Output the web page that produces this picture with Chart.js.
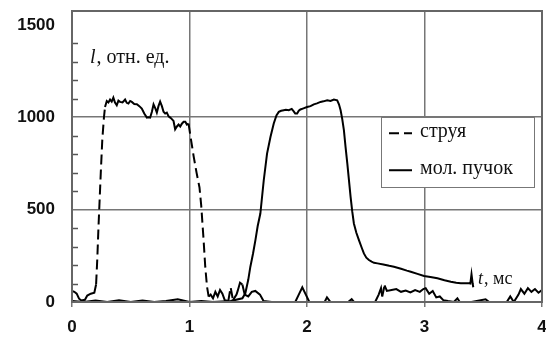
<!DOCTYPE html>
<html><head><meta charset="utf-8">
<script src="https://cdn.jsdelivr.net/npm/chart.js@4/dist/chart.umd.min.js"></script>
<style>html,body{margin:0;padding:0;background:#fff}#wrap{position:relative;width:546px;height:338px}</style>
</head><body><div id="wrap"><canvas id="c" width="546" height="338"></canvas></div>
<script>
// ---- data ----
const seriesNames = ['струя', 'мол. пучок'];
const yTitleItalic = 'l';
const yTitleRest = ', отн. ед.';
const xTitleItalic = 't';
const xTitleRest = ', мс';
const xTickValues = [0, 1, 2, 3, 4];
const yTickLabels = [0, 500, 1000, 1500];

const tStruja = [0.00,0.02,0.04,0.06,0.08,0.11,0.13,0.16,0.19,0.205,0.215,0.225,0.233,0.245,0.258,0.272,0.281,0.296,0.31,0.324,0.338,0.352,0.366,0.381,0.395,0.409,0.43,0.452,0.466,0.48,0.495,0.509,0.53,0.552,0.573,0.594,0.615,0.637,0.651,0.665,0.68,0.694,0.708,0.722,0.736,0.75,0.765,0.779,0.793,0.807,0.822,0.836,0.85,0.864,0.878,0.893,0.907,0.921,0.935,0.95,0.964,0.978,0.992,1.01,1.035,1.06,1.085,1.1,1.12,1.134,1.149,1.163,1.18,1.20,1.22,1.24,1.26,1.28,1.30,1.33,1.35,1.37,1.40,1.41,1.43,1.45,1.47,1.50,1.53,1.56,1.60,1.63,1.70,1.90,1.93,1.96,1.99,2.02,2.15,2.17,2.20,2.35,2.38,2.40,2.58,2.61,2.63,2.64,2.66,2.68,2.72,2.76,2.80,2.84,2.88,2.92,2.96,2.99,3.01,3.04,3.07,3.10,3.13,3.16,3.20,3.25,3.28,3.30,3.40,3.52,3.55,3.70,3.73,3.76,3.80,3.82,3.85,3.88,3.91,3.94,3.97,4.00];
const iStruja = [60,55,45,18,8,12,35,45,50,95,230,400,520,700,880,1000,1055,1088,1080,1096,1085,1106,1080,1065,1090,1083,1080,1096,1078,1074,1088,1083,1072,1070,1060,1047,1020,998,1000,998,1030,1070,1050,1025,1060,1085,1060,1030,1020,1025,1005,998,990,980,935,950,960,950,965,975,975,960,965,890,790,700,620,520,335,191,83,29,40,20,55,30,65,45,10,5,80,10,40,60,105,95,40,30,55,60,40,5,0,0,40,80,40,0,0,25,0,0,15,0,0,40,75,30,90,60,65,70,55,62,52,65,55,70,75,45,60,25,30,10,5,0,20,0,0,15,0,0,30,0,40,70,45,75,55,70,50,65];

const tPuchok = [0.0,0.1,0.2,0.3,0.4,0.5,0.6,0.7,0.8,0.9,1.0,1.1,1.2,1.35,1.45,1.475,1.5,1.518,1.54,1.561,1.58,1.603,1.632,1.66,1.689,1.717,1.74,1.76,1.78,1.802,1.82,1.845,1.87,1.887,1.90,1.916,1.93,1.944,1.97,2.0,2.03,2.058,2.085,2.115,2.14,2.172,2.2,2.229,2.257,2.272,2.286,2.3,2.314,2.328,2.343,2.357,2.371,2.385,2.399,2.42,2.442,2.465,2.484,2.505,2.527,2.55,2.57,2.6,2.65,2.7,2.74,2.8,2.85,2.883,2.94,2.996,3.05,3.11,3.17,3.224,3.27,3.309,3.38,3.39,3.40,3.41,3.415];
const iPuchok = [5,0,8,0,10,0,8,0,5,15,0,5,0,5,20,47,120,191,260,335,410,479,659,803,893,966,1010,1029,1035,1038,1040,1038,1045,1032,1020,1020,1035,1042,1048,1055,1060,1070,1075,1083,1086,1092,1088,1096,1092,1070,1038,990,930,840,750,660,569,490,425,375,335,295,263,240,227,218,212,209,203,196,191,180,170,164,152,141,135,128,118,110,104,101,101,100,150,100,80];

// ---- chart ----
const toPts = (t, v) => t.map((x, k) => ({x: x, y: v[k]}));
const GRID = '#767676';
const TICKFONT = {family: '"Liberation Sans", Arial, sans-serif', size: 17, weight: 'bold'};
const SERIF = '"Liberation Serif", "Times New Roman", serif';

const decorPlugin = {
  id: 'decor',
  afterDraw(chart) {
    const ctx = chart.ctx, a = chart.chartArea, y = chart.scales.y;
    ctx.save();
    // minor ticks inside left axis
    ctx.strokeStyle = '#555'; ctx.lineWidth = 1.5;
    y.ticks.forEach(t => {
      if (t.value % 500 !== 0 && t.value < 1500) {
        const py = Math.round(y.getPixelForValue(t.value)) + 0.5;
        ctx.beginPath(); ctx.moveTo(a.left, py); ctx.lineTo(a.left + 6, py); ctx.stroke();
      }
    });
    // frame
    ctx.strokeStyle = '#666'; ctx.lineWidth = 2;
    ctx.strokeRect(a.left, a.top, a.right - a.left, a.bottom - a.top);
    // legend box
    const lx = a.left + 309, ly = y.getPixelForValue(1000), lw = 153, lh = 70;
    ctx.fillStyle = '#fff'; ctx.fillRect(lx, ly, lw, lh);
    ctx.strokeStyle = '#777'; ctx.lineWidth = 1;
    ctx.strokeRect(Math.round(lx) + 0.5, Math.round(ly) + 0.5, lw, lh);
    ctx.strokeStyle = '#000'; ctx.lineWidth = 2;
    ctx.setLineDash([10, 5]);
    ctx.beginPath(); ctx.moveTo(lx + 8, ly + 16); ctx.lineTo(lx + 31, ly + 16); ctx.stroke();
    ctx.setLineDash([]);
    ctx.beginPath(); ctx.moveTo(lx + 8, ly + 53); ctx.lineTo(lx + 31, ly + 53); ctx.stroke();
    ctx.fillStyle = '#111'; ctx.textBaseline = 'middle'; ctx.textAlign = 'left';
    ctx.font = '20px ' + SERIF;
    ctx.fillText(seriesNames[0], lx + 39, ly + 15);
    ctx.fillText(seriesNames[1], lx + 39, ly + 52);
    // axis titles
    ctx.textBaseline = 'alphabetic';
    ctx.font = 'italic 20px ' + SERIF;
    let x0 = a.left + 18, y0 = 63;
    ctx.fillText(yTitleItalic, x0, y0);
    let w = ctx.measureText(yTitleItalic).width;
    ctx.font = '20px ' + SERIF;
    ctx.fillText(yTitleRest, x0 + w + 1, y0);
    ctx.font = 'italic 18px ' + SERIF;
    x0 = a.left + 406; y0 = 284;
    ctx.fillText(xTitleItalic, x0, y0);
    w = ctx.measureText(xTitleItalic).width;
    ctx.font = '18px ' + SERIF;
    ctx.fillText(xTitleRest, x0 + w + 1, y0);
    ctx.restore();
  }
};

new Chart(document.getElementById('c'), {
  type: 'line',
  data: {
    datasets: [
      {
        label: seriesNames[0], data: toPts(tStruja, iStruja),
        borderColor: '#000', borderWidth: 2, pointRadius: 0, tension: 0,
        segment: { borderDash: c => Math.abs(c.p1.parsed.y - c.p0.parsed.y) > 50 ? [10, 5] : undefined }
      },
      {
        label: seriesNames[1], data: toPts(tPuchok, iPuchok),
        borderColor: '#000', borderWidth: 2, pointRadius: 0, tension: 0
      }
    ]
  },
  options: {
    responsive: false, animation: false, devicePixelRatio: 1,
    layout: { padding: { top: 11, right: 4, left: 0, bottom: 0 } },
    plugins: { legend: { display: false }, tooltip: { enabled: false } },
    scales: {
      x: {
        type: 'linear', min: xTickValues[0], max: xTickValues[xTickValues.length - 1],
        ticks: { stepSize: 1, color: '#111', font: TICKFONT, padding: 10, maxRotation: 0 },
        grid: { color: GRID, lineWidth: 1.5, tickLength: 5 },
        border: { display: true, color: '#666', width: 2 },
        afterFit: s => { s.height = 36; s.paddingLeft = 0; s.paddingRight = 0; }
      },
      y: {
        min: 0, max: 1575,
        ticks: { stepSize: 100, includeBounds: false, autoSkip: false, color: '#111', font: TICKFONT, padding: 17,
          callback: v => yTickLabels.includes(v) ? String(v) : '' },
        grid: { color: c => (c.tick && (c.tick.value === 500 || c.tick.value === 1000)) ? GRID : 'rgba(0,0,0,0)', lineWidth: 1.5, drawTicks: false },
        border: { display: true, color: '#666', width: 2 },
        afterFit: s => { s.width = 72; s.paddingTop = 0; s.paddingBottom = 0; }
      }
    }
  },
  plugins: [decorPlugin]
});
</script>
</body></html>
